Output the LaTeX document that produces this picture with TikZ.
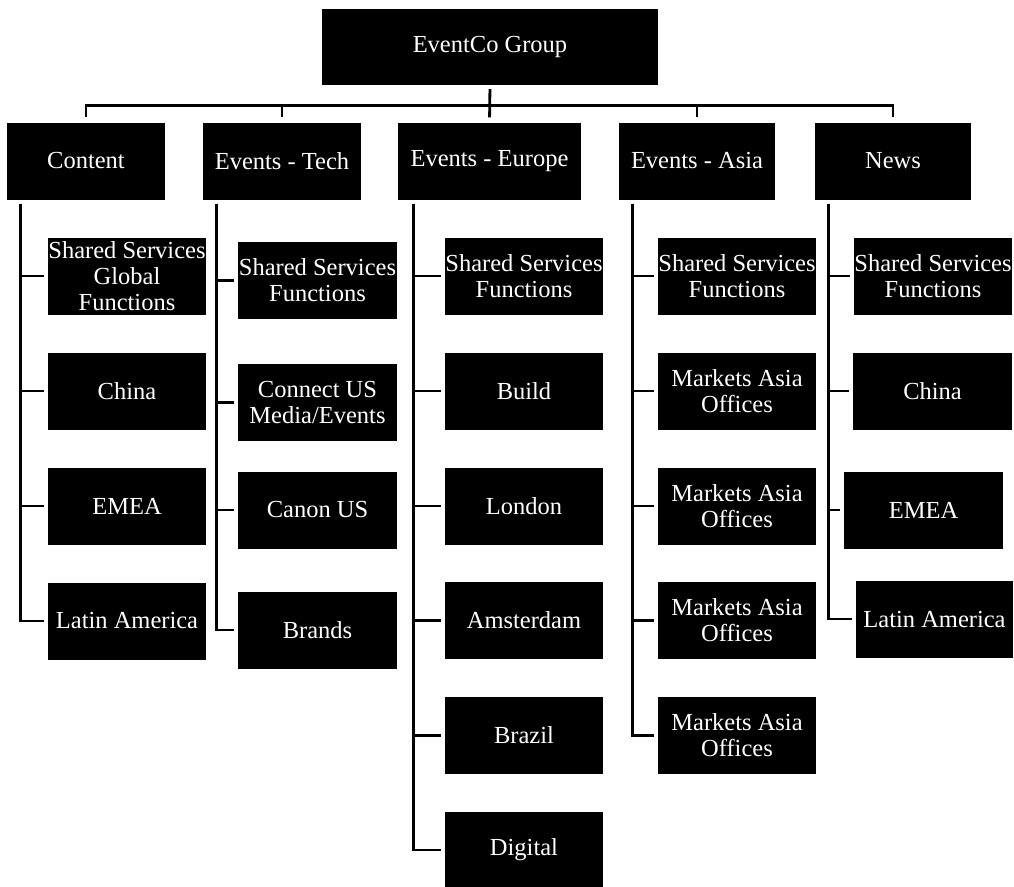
\documentclass[tikz,border=0pt]{standalone}
\usepackage{fontspec}
\setmainfont{Liberation Serif}
\begin{document}
\begin{tikzpicture}[x=1pt,y=-1pt,
  unit/.style={fill=black,text=white,align=center,inner sep=0pt,
    minimum height=77pt,font=\fontsize{24.5}{26}\selectfont},
  conn/.style={draw=black,line width=2.8pt},
  lead/.style={conn,shorten >=4pt}]
\useasboundingbox (0,0) rectangle (1014,886);

% top of the tree
\node[unit,minimum width=336pt,minimum height=76pt] (top) at (490,47) {EventCo Group};

% divisions
\node[unit,minimum width=158pt] (content) at (86,161)    {Content};
\node[unit,minimum width=158pt] (tech)    at (282,161)   {Events - Tech};
\node[unit,minimum width=183pt] (europe)  at (489.5,161) {Events - Europe};
\node[unit,minimum width=156pt] (asia)    at (697,161)   {Events - Asia};
\node[unit,minimum width=156pt] (news)    at (893,161)   {News};

% Content units
\node[unit,minimum width=158pt] (c1) at (127,276) {Shared Services\\Global\\Functions};
\node[unit,minimum width=158pt] (c2) at (127,391) {China};
\node[unit,minimum width=158pt] (c3) at (127,506) {EMEA};
\node[unit,minimum width=158pt] (c4) at (127,621) {Latin America};

% Events - Tech units
\node[unit,minimum width=159pt] (t1) at (317.5,280.5) {Shared Services\\Functions};
\node[unit,minimum width=159pt] (t2) at (317.5,402.5) {Connect US\\Media/Events};
\node[unit,minimum width=159pt] (t3) at (317.5,510)   {Canon US};
\node[unit,minimum width=159pt] (t4) at (317.5,630)   {Brands};

% Events - Europe units
\node[unit,minimum width=158pt] (e1) at (524,276) {Shared Services\\Functions};
\node[unit,minimum width=158pt] (e2) at (524,391) {Build};
\node[unit,minimum width=158pt] (e3) at (524,506) {London};
\node[unit,minimum width=158pt] (e4) at (524,620.5) {Amsterdam};
\node[unit,minimum width=158pt] (e5) at (524,735.5) {Brazil};
\node[unit,minimum width=158pt] (e6) at (524,850) {Digital};

% Events - Asia units
\node[unit,minimum width=158pt] (a1) at (737,276)   {Shared Services\\Functions};
\node[unit,minimum width=158pt] (a2) at (737,391)   {Markets Asia\\Offices};
\node[unit,minimum width=158pt] (a3) at (737,506)   {Markets Asia\\Offices};
\node[unit,minimum width=158pt] (a4) at (737,620.5) {Markets Asia\\Offices};
\node[unit,minimum width=158pt] (a5) at (737,735.5) {Markets Asia\\Offices};

% News units
\node[unit,minimum width=158pt] (n1) at (933,276)   {Shared Services\\Functions};
\node[unit,minimum width=159pt] (n2) at (932.5,391) {China};
\node[unit,minimum width=159pt] (n3) at (923.5,510) {EMEA};
\node[unit,minimum width=157pt] (n4) at (934.5,619) {Latin America};

% bus from the group to the divisions
\coordinate (hub) at ([yshift=-20pt]top.south);
\draw[conn,shorten <=5pt,shorten >=5pt] (content.north) |- (hub) -| (news.north);
\draw[conn,shorten <=4pt,shorten >=5pt] (top.south) -- (europe.north);
\draw[conn,shorten >=5pt] (hub -| tech.north) -- (tech.north);
\draw[conn,shorten >=5pt] (hub -| asia.north) -- (asia.north);

% spines under each division
\coordinate (cs) at ([xshift=14pt,yshift=-4pt]content.south west);
\coordinate (ts) at ([xshift=14pt,yshift=-4pt]tech.south west);
\coordinate (es) at ([xshift=16pt,yshift=-4pt]europe.south west);
\coordinate (as) at ([xshift=14pt,yshift=-4pt]asia.south west);
\coordinate (ns) at ([xshift=14pt,yshift=-4pt]news.south west);

\foreach \u in {c1,c2,c3,c4} \draw[lead] (cs) |- (\u.west);
\foreach \u in {t1,t2,t3,t4} \draw[lead] (ts) |- (\u.west);
\foreach \u in {e1,e2,e3,e4,e5,e6} \draw[lead] (es) |- (\u.west);
\foreach \u in {a1,a2,a3,a4,a5} \draw[lead] (as) |- (\u.west);
\foreach \u in {n1,n2,n3,n4} \draw[lead] (ns) |- (\u.west);
\end{tikzpicture}
\end{document}
